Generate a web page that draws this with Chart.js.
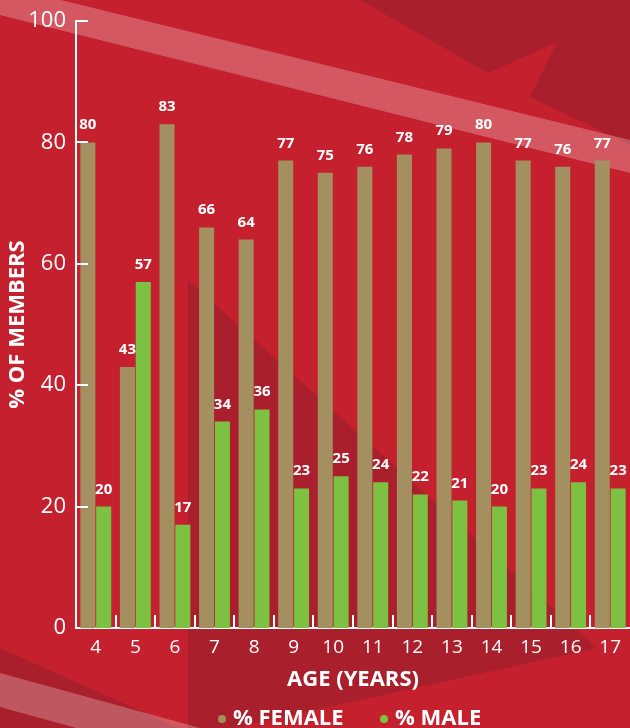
<!DOCTYPE html>
<html>
<head>
<meta charset="utf-8">
<script src="https://cdn.jsdelivr.net/npm/chart.js@4.4.1/dist/chart.umd.min.js"></script>
<style>
  html, body { margin: 0; padding: 0; background: #c5202e; overflow: hidden; }
  #wrap { position: relative; width: 630px; height: 728px; }
  #legend { position: absolute; top: 703px; left: 0; width: 630px; height: 26px; font: bold 22px 'Open Sans', sans-serif; color: #fff; }
  .item { position: absolute; top: 0; line-height: 26px; white-space: nowrap; }
  .dot { display: inline-block; width: 8px; height: 8px; border-radius: 50%; margin-right: 7px; vertical-align: 2px; }
</style>
</head>
<body>
<div id="wrap">
  <canvas id="chart" width="630" height="728"></canvas>
  <div id="legend"></div>
</div>
<script>
const ages = ['4', '5', '6', '7', '8', '9', '10', '11', '12', '13', '14', '15', '16', '17'];
const femaleValues = [80, 43, 83, 66, 64, 77, 75, 76, 78, 79, 80, 77, 76, 77];
const maleValues = [20, 57, 17, 34, 36, 23, 25, 24, 22, 21, 20, 23, 24, 23];
const yTicks = [0, 20, 40, 60, 80, 100];
const seriesNames = ['% FEMALE', '% MALE'];

const FEMALE = '#a38f5f';
const MALE = '#7dc142';
const FONT = "'Open Sans', sans-serif";

function poly(ctx, pts, fill) {
    ctx.beginPath();
    ctx.moveTo(pts[0][0], pts[0][1]);
    for (let i = 1; i < pts.length; i++) ctx.lineTo(pts[i][0], pts[i][1]);
    ctx.closePath();
    ctx.fillStyle = fill;
    ctx.fill();
}

// red backdrop with the darker triangles and pale bands
const backdrop = {
    id: 'backdrop',
    beforeDraw(chart) {
        const ctx = chart.ctx;
        ctx.save();
        ctx.fillStyle = '#c5202e';
        ctx.fillRect(0, 0, chart.width, chart.height);
        const dark = '#aa1f2c';
        poly(ctx, [[360, 0], [488, 73], [557, 42], [530, 97], [630, 145], [630, 0]], dark);
        poly(ctx, [[188, 280], [597, 648], [188, 738]], dark);
        poly(ctx, [[0, 648], [210, 742], [0, 742]], dark);
        const pale = 'rgba(255,255,255,0.25)';
        poly(ctx, [[0, -15], [630, 140], [630, 173], [0, 15]], pale);
        poly(ctx, [[0, 673], [400, 783], [400, 817], [0, 707]], pale);
        ctx.restore();
    }
};

// short inward ticks on both axes
const innerTicks = {
    id: 'innerTicks',
    afterDatasetsDraw(chart) {
        const ctx = chart.ctx;
        const xs = chart.scales.x, ys = chart.scales.y;
        const area = chart.chartArea;
        ctx.save();
        ctx.strokeStyle = '#fff';
        ctx.lineWidth = 2;
        ctx.beginPath();
        for (let i = 1; i < ages.length; i++) {
            const bx = Math.round((xs.getPixelForValue(i - 1) + xs.getPixelForValue(i)) / 2);
            ctx.moveTo(bx, area.bottom);
            ctx.lineTo(bx, area.bottom - 13);
        }
        yTicks.forEach(v => {
            if (v === 0) return;
            const py = Math.round(ys.getPixelForValue(v));
            ctx.moveTo(area.left, py);
            ctx.lineTo(area.left + 12, py);
        });
        ctx.stroke();
        ctx.restore();
    }
};

const valueLabels = {
    id: 'valueLabels',
    afterDatasetsDraw(chart) {
        const ctx = chart.ctx;
        ctx.save();
        ctx.fillStyle = '#fff';
        ctx.font = 'bold 15px ' + FONT;
        ctx.textAlign = 'center';
        ctx.textBaseline = 'alphabetic';
        chart.data.datasets.forEach((ds, di) => {
            chart.getDatasetMeta(di).data.forEach((bar, i) => {
                ctx.fillText(ds.data[i], bar.x, bar.y - 13);
            });
        });
        ctx.restore();
    }
};

const chart = new Chart(document.getElementById('chart'), {
    type: 'bar',
    data: {
        labels: ages,
        datasets: [
            { label: seriesNames[0], data: femaleValues, backgroundColor: FEMALE },
            { label: seriesNames[1], data: maleValues, backgroundColor: MALE }
        ]
    },
    options: {
        responsive: false,
        devicePixelRatio: 1,
        animation: false,
        layout: { padding: { top: 20, right: 0, bottom: 0, left: 0 } },
        datasets: { bar: { categoryPercentage: 0.8, barPercentage: 0.95, borderWidth: 0 } },
        plugins: {
            legend: { display: false },
            tooltip: { enabled: false }
        },
        scales: {
            x: {
                grid: { display: false, drawTicks: false },
                border: { color: '#fff', width: 2 },
                ticks: { color: '#fff', font: { family: FONT, size: 19 }, padding: 8 },
                title: {
                    display: true, text: 'AGE (YEARS)', color: '#fff',
                    font: { family: FONT, size: 22, weight: 'bold' },
                    padding: { top: 0, bottom: 35 }
                },
                afterFit(scale) { scale.height = 100; }
            },
            y: {
                min: 0, max: 100,
                grid: { display: false, drawTicks: false },
                border: { color: '#fff', width: 2 },
                ticks: {
                    stepSize: 20, color: '#fff', padding: 10,
                    font: { family: FONT, size: 22, lineHeight: 1 }
                },
                title: {
                    display: true, text: '% OF MEMBERS', color: '#fff',
                    font: { family: FONT, size: 22, weight: 'bold' },
                    padding: { top: 5, bottom: 0 }
                },
                afterFit(scale) { scale.width = 76; }
            }
        }
    },
    plugins: [backdrop, innerTicks, valueLabels]
});

// legend as text below the axis title
const legendEl = document.getElementById('legend');
const legendLeft = [218, 380];
chart.data.datasets.forEach((ds, i) => {
    const item = document.createElement('span');
    item.className = 'item';
    item.style.left = legendLeft[i] + 'px';
    item.innerHTML = '<span class="dot" style="background:' + ds.backgroundColor + '"></span>' + ds.label;
    legendEl.appendChild(item);
});
</script>
</body>
</html>
